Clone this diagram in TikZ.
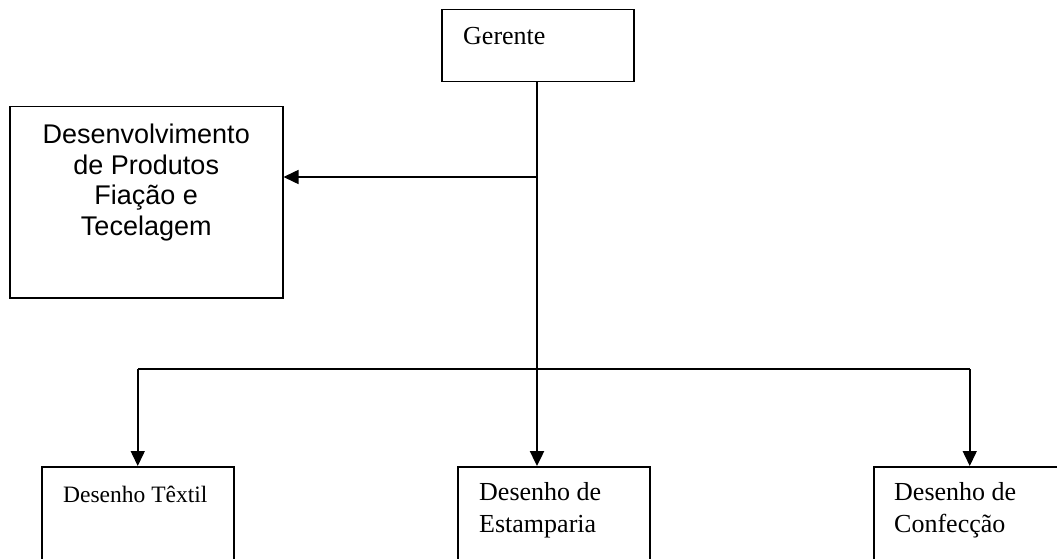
\documentclass[tikz,border=0pt]{standalone}
\usepackage{fontspec}
\setmainfont{Liberation Serif}
\newfontfamily\arialf{Liberation Sans}
\usetikzlibrary{arrows.meta,calc}

\begin{document}
\begin{tikzpicture}[x=1pt,y=-1pt,
  box/.style={draw, line width=1.5pt, rectangle, inner sep=0pt, anchor=north west},
  lbl/.style={inner sep=0pt, anchor=base west, align=left},
  conn/.style={line width=1.5pt},
  arr/.style={conn, -{Triangle[length=15pt,width=14pt]}},
  serifbig/.style={font=\fontsize{26}{32}\selectfont},
]
\clip (0,0) rectangle (1057,559);
\fill[white] (0,0) rectangle (1057,559);

% boxes
\node[box, minimum width=192pt, minimum height=72pt]  (ger) at (441,9)   {};
\node[box, minimum width=273pt, minimum height=191pt] (dev) at (9,106)   {};
\node[box, minimum width=192pt, minimum height=130pt] (tex) at (41,466)  {};
\node[box, minimum width=192pt, minimum height=130pt] (est) at (457,466) {};
\node[box, minimum width=192pt, minimum height=130pt] (con) at (873,466) {};

% labels (base anchor of a two-line label sits on its last line)
\node[lbl, serifbig] (gert) at ($(ger.north west)+(22,36)$) {Gerente};
\node[inner sep=0pt, anchor=north, align=center,
      font=\arialf\fontsize{27}{30.5}\selectfont] (devt)
      at ($(dev.north)+(0,18)$)
      {Desenvolvimento\\de Produtos\\Fiação e\\Tecelagem};
\node[lbl, font=\fontsize{23.5}{30}\selectfont] (text) at ($(tex.north west)+(22,36)$) {Desenho Têxtil};
\node[lbl, serifbig] (estt) at ($(est.north west)+(22,66)$) {Desenho de\\Estamparia};
\node[lbl, serifbig] (cont) at ($(con.north west)+(21,66)$) {Desenho de\\Confecção};

% connectors
\coordinate (side) at (537,177);
\coordinate (bar)  at (537,369);
\draw[conn] (ger.south -| bar) -- (bar);
\draw[arr] (side) -- (side -| dev.east);
\draw[conn] (tex.north |- bar) -- (con.north |- bar);
\draw[arr] (tex.north |- bar) -- (tex.north);
\draw[arr] (con.north |- bar) -- (con.north);
\draw[arr, line width=2.4pt] (bar) -- (bar |- est.north);
\end{tikzpicture}
\end{document}
